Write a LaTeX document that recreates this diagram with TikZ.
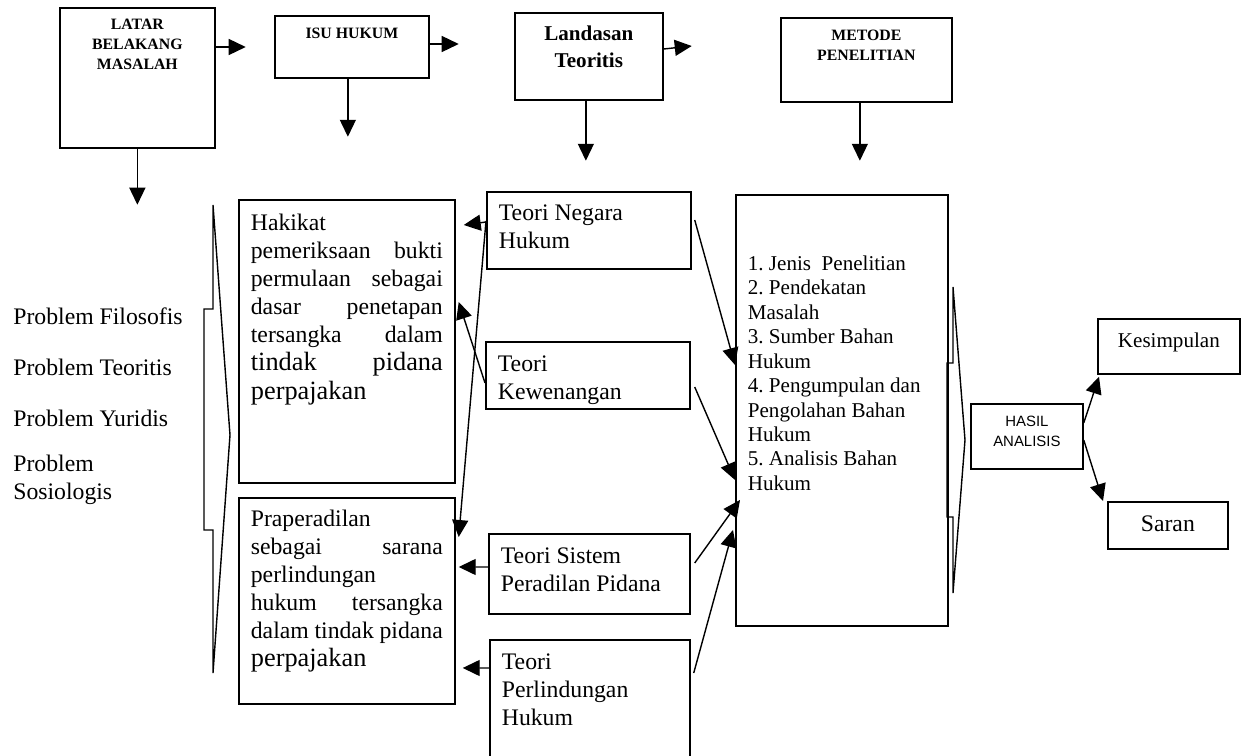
\documentclass[tikz,border=0pt]{standalone}
\usepackage{fontspec}
\setmainfont{Liberation Serif}
\newfontfamily\arialfont{Liberation Sans}
\usetikzlibrary{shapes,arrows.meta}
\frenchspacing
\tikzstyle{box} = [draw, rectangle, line width=1pt, inner xsep=0.24cm, inner ysep=0pt, anchor=north west]
\tikzstyle{arr} = [-{Triangle[length=0.34cm,width=0.32cm]}, line width=0.8pt]
\tikzstyle{brace} = [line width=0.8pt, line join=miter]
\tikzstyle{lbl} = [anchor=west, inner sep=0pt]
\newcommand{\txt}{\fontsize{13.5pt}{16pt}\selectfont}
\newcommand{\bigtxt}{\fontsize{15pt}{16pt}\selectfont}
\newcommand{\listtxt}{\fontsize{12pt}{13.9pt}\selectfont}
\newcommand{\headtxt}{\fontsize{9pt}{11.3pt}\selectfont\bfseries}
\newcommand{\landtxt}{\fontsize{12pt}{15.3pt}\selectfont\bfseries}
\newcommand{\hasiltxt}{\arialfont\fontsize{8.5pt}{11.3pt}\selectfont}
\newcommand{\boxtext}[4][0.24cm]{\parbox[c][#3][t]{#2}{\vspace*{#1}#4}}
\newcommand{\jline}[1]{\makebox[\linewidth][s]{#1}}

\begin{document}
\begin{tikzpicture}[x=0.02cm, y=-0.02cm]
\useasboundingbox (0,0) rectangle (1248,755);
\clip (0,0) rectangle (1248,755);

    % top row
    \node [box] (latar) at (59,7) {\boxtext[0.22cm]{2.62cm}{2.80cm}{\centering\headtxt LATAR\\BELAKANG\\MASALAH}};
    \node [box] (isu) at (274,15) {\boxtext{2.60cm}{1.24cm}{\centering\headtxt ISU HUKUM}};
    \node [box] (land) at (514,12) {\boxtext[0.26cm]{2.48cm}{1.74cm}{\centering\landtxt Landasan\\Teoritis}};
    \node [box] (metode) at (780,17) {\boxtext{2.94cm}{1.68cm}{\centering\headtxt METODE\\PENELITIAN}};

    % problems
    \node [lbl] (pfil) at (13,316) {\txt Problem Filosofis};
    \node [lbl] (pteo) at (13,367) {\txt Problem Teoritis};
    \node [lbl] (pyur) at (13,418) {\txt Problem Yuridis};
    \node [lbl, align=left, font=\txt] (psos) at (13,480) {Problem\\Sosiologis};

    % issues
    \node [box] (hakikat) at (238,199) {\boxtext[0.28cm]{3.84cm}{5.66cm}{\raggedright\txt Hakikat\\
        \jline{pemeriksaan bukti}\\
        \jline{permulaan sebagai}\\
        \jline{dasar penetapan}\\
        \jline{tersangka dalam}\\
        {\bigtxt\jline{tindak pidana}\\
        perpajakan}}};
    \node [box] (prap) at (238,497) {\boxtext{3.84cm}{4.12cm}{\raggedright\txt Praperadilan\\
        \jline{sebagai sarana}\\
        perlindungan\\
        \jline{hukum tersangka}\\
        \jline{dalam tindak pidana}\\
        {\bigtxt perpajakan}}};

    % theories
    \node [box] (tnh) at (486,191) {\boxtext[0.26cm]{3.60cm}{1.54cm}{\raggedright\txt Teori Negara\\Hukum}};
    \node [box] (tk) at (485,341) {\boxtext[0.28cm]{3.60cm}{1.34cm}{\raggedright\txt Teori\\Kewenangan}};
    \node [box] (tspp) at (488,533) {\boxtext[0.28cm]{3.54cm}{1.60cm}{\raggedright\txt Teori Sistem\\Peradilan Pidana}};
    \node [box] (tph) at (489,639) {\boxtext[0.28cm]{3.52cm}{2.42cm}{\raggedright\txt Teori\\Perlindungan\\Hukum}};

    % method and results
    \node [box] (metlist) at (735,194) {\boxtext[1.22cm]{3.76cm}{8.62cm}{\raggedright\listtxt 1. Jenis\ \ Penelitian\\
        2. Pendekatan\\ Masalah\\
        3. Sumber Bahan\\ Hukum\\
        4. Pengumpulan dan\\ Pengolahan Bahan\\ Hukum\\
        5. Analisis Bahan\\ Hukum}};
    \node [box] (hasil) at (970,403) {\boxtext{1.76cm}{1.30cm}{\centering\hasiltxt HASIL\\ANALISIS}};
    \node [box] (kes) at (1097,318) {\boxtext[0.28cm]{2.36cm}{1.10cm}{\centering\listtxt Kesimpulan}};
    \node [box] (saran) at (1107,501) {\boxtext[0.28cm]{1.92cm}{0.94cm}{\centering\txt Saran}};

    % braces
    \draw [brace] (213,205) -- (213,309) -- (204,309) -- (204,530) -- (213,530) -- (213,673) -- (230,435) -- cycle;
    \draw [brace] (953,287) -- (953,363) -- (947,363) -- (947,517) -- (953,517) -- (953,593) -- (965,440) -- cycle;

    % top arrows
    \draw [arr] ([yshift=-0.8cm]latar.north east) -- ++(30,0);
    \draw [arr] (latar.south) -- ++(0,56);
    \draw [arr] ([yshift=-0.58cm]isu.north east) -- ++(29,0);
    \draw [arr] ([xshift=-0.08cm]isu.south) -- ++(0,58);
    \draw [arr] ([yshift=-0.74cm]land.north east) -- ++(28,-3);
    \draw [arr] ([xshift=-0.06cm]land.south) -- ++(0,60);
    \draw [arr] ([xshift=-0.13cm]metode.south) -- ++(0,58);

    % theories to issues
    \draw [arr] ([yshift=-0.62cm]tnh.north west) -- ([xshift=0.16cm,yshift=-0.52cm]hakikat.north east);
    \draw [arr] ([yshift=-0.6cm]tnh.north west) -- ([xshift=0.06cm,yshift=-0.8cm]prap.north east);
    \draw [arr] ([yshift=-0.84cm]tk.north west) -- ([xshift=0.06cm,yshift=-2.06cm]hakikat.north east);
    \draw [arr] ([yshift=-0.68cm]tspp.north west) -- ([xshift=0.06cm,yshift=-1.4cm]prap.north east);
    \draw [arr] ([yshift=-0.58cm]tph.north west) -- ([xshift=0.14cm,yshift=-3.42cm]prap.north east);

    % theories to method
    \draw [arr] ([xshift=0.06cm,yshift=-0.58cm]tnh.north east) -- ([yshift=-3.42cm]metlist.north west);
    \draw [arr] ([xshift=0.08cm,yshift=-0.92cm]tk.north east) -- ([yshift=-5.72cm]metlist.north west);
    \draw [arr] ([xshift=0.08cm,yshift=-0.6cm]tspp.north east) -- ([xshift=0.1cm,yshift=-6.12cm]metlist.north west);
    \draw [arr] ([xshift=0.06cm,yshift=-0.68cm]tph.north east) -- ([xshift=-0.04cm,yshift=-6.72cm]metlist.north west);

    % results
    \draw [arr] ([yshift=-0.4cm]hasil.north east) -- ([xshift=0.04cm,yshift=-0.04cm]kes.south west);
    \draw [arr] ([yshift=-0.74cm]hasil.north east) -- ([xshift=-0.08cm]saran.north west);

\end{tikzpicture}
\end{document}
